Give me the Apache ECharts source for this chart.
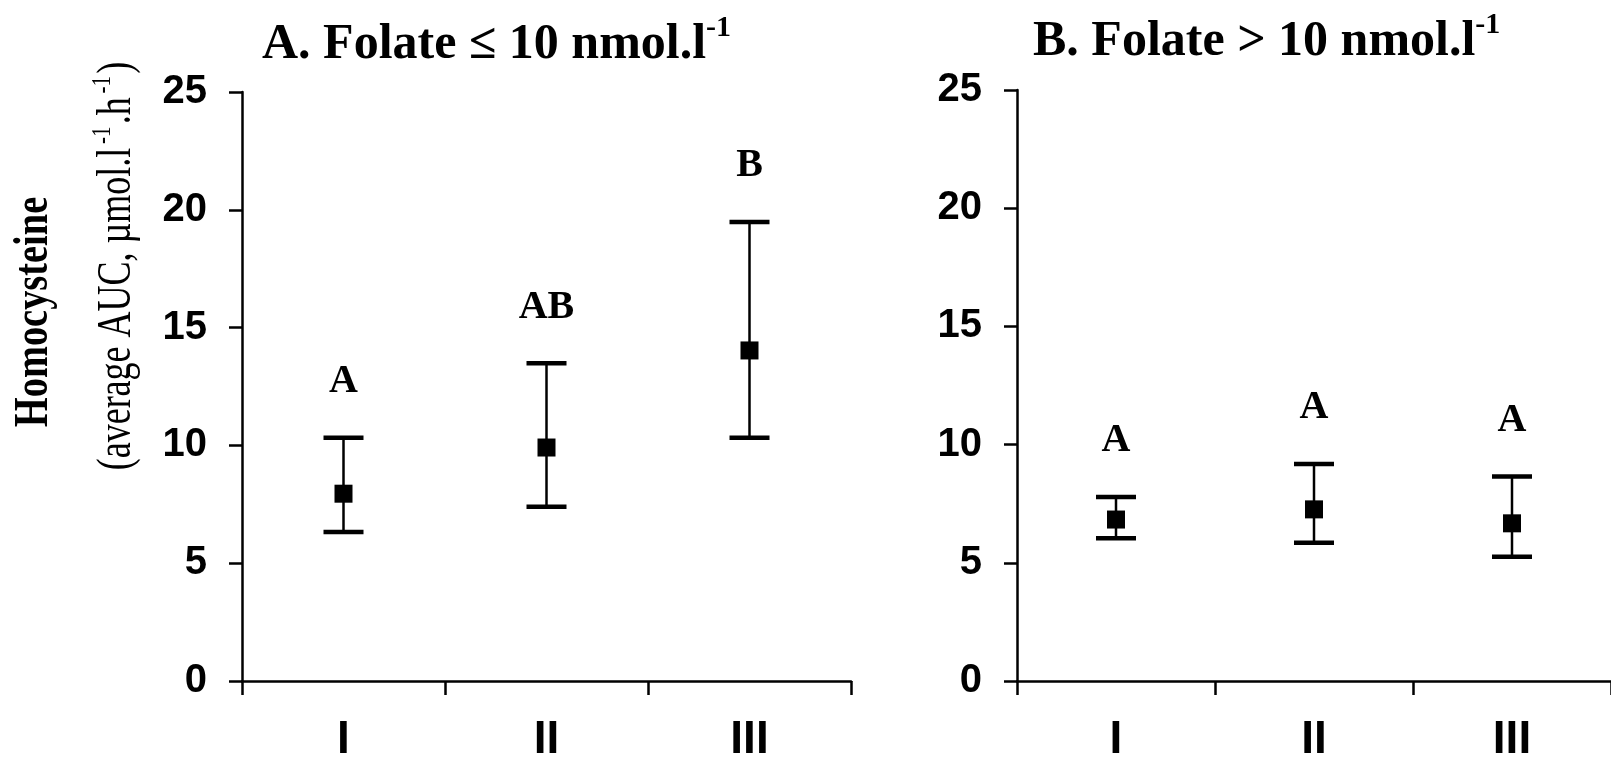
<!DOCTYPE html>
<html>
<head>
<meta charset="utf-8">
<script src="https://cdn.jsdelivr.net/npm/echarts@6/dist/echarts.min.js"></script>
<style>
  html, body { margin: 0; padding: 0; background: #fff; }
  #chart { width: 1611px; height: 763px; }
</style>
</head>
<body>
<div id="chart"></div>
<script>
// Homocysteine AUC by group (I, II, III), split by folate status
const categories = ['I', 'II', 'III'];

// Panel A: folate <= 10 nmol/l
const lowMean  = [7.95, 9.91, 14.03];
const lowUpper = [10.33, 13.49, 19.48];
const lowLower = [6.32, 7.40, 10.33];
const lowLetters = ['A', 'AB', 'B'];

// Panel B: folate > 10 nmol/l
const highMean  = [6.83, 7.26, 6.67];
const highUpper = [7.78, 9.18, 8.65];
const highLower = [6.04, 5.85, 5.26];
const highLetters = ['A', 'A', 'A'];

// y axis ticks
const yMin = 0, yMax = 25, yStep = 5;

const SERIF = '"Liberation Serif", "Times New Roman", serif';
const SANS = '"Liberation Sans", Arial, sans-serif';

// Error bar (stem + caps) with the significance letter above the upper cap
function errorBarRenderer(letters) {
  return function (params, api) {
    const idx = api.value(0);
    const top = api.coord([idx, api.value(1)]);
    const bot = api.coord([idx, api.value(2)]);
    const x = top[0];
    const half = 20;
    return {
      type: 'group',
      children: [
        { type: 'line', shape: { x1: x, y1: top[1], x2: x, y2: bot[1] },
          style: { stroke: '#000', lineWidth: 2.5 } },
        { type: 'line', shape: { x1: x - half, y1: top[1], x2: x + half, y2: top[1] },
          style: { stroke: '#000', lineWidth: 4.5 } },
        { type: 'line', shape: { x1: x - half, y1: bot[1], x2: x + half, y2: bot[1] },
          style: { stroke: '#000', lineWidth: 4.5 } },
        { type: 'text', x: x, y: top[1] - 56,
          style: { text: letters[params.dataIndex], font: 'bold 40px ' + SERIF,
                   fill: '#000', align: 'center', verticalAlign: 'middle' } }
      ]
    };
  };
}

function xAxisFor(gridIndex) {
  return {
    gridIndex: gridIndex,
    type: 'category',
    data: categories,
    boundaryGap: true,
    axisLine: { show: true, lineStyle: { color: '#000', width: 2.5 } },
    axisTick: { show: true, length: 14, alignWithLabel: false, lineStyle: { color: '#000', width: 2.5 } },
    axisLabel: { color: '#000', fontFamily: SANS, fontWeight: 'bold', fontSize: 46, margin: 36 },
    splitLine: { show: false }
  };
}

function yAxisFor(gridIndex) {
  return {
    gridIndex: gridIndex,
    type: 'value',
    min: yMin, max: yMax, interval: yStep,
    axisLine: { show: true, lineStyle: { color: '#000', width: 2.5 } },
    axisTick: { show: true, length: 13, lineStyle: { color: '#000', width: 2.5 } },
    axisLabel: { color: '#000', fontFamily: SANS, fontWeight: 'bold', fontSize: 40, margin: 35 },
    splitLine: { show: false }
  };
}

const titleRich = {
  m: { fontFamily: SERIF, fontWeight: 'bold', fontSize: 50, color: '#000', lineHeight: 64 },
  s: { fontFamily: SERIF, fontWeight: 'bold', fontSize: 30, color: '#000', verticalAlign: 'top', lineHeight: 30 }
};

const axisNameRich = {
  r: { fontFamily: SERIF, fontSize: 48, color: '#000', lineHeight: 56 },
  s: { fontFamily: SERIF, fontSize: 28, color: '#000', verticalAlign: 'top', lineHeight: 28, padding: [0, 3, 0, 5] }
};

const chart = echarts.init(document.getElementById('chart'), null, { renderer: 'canvas' });

chart.setOption({
  animation: false,
  backgroundColor: '#fff',
  title: [
    { text: '{m|A. Folate ≤ 10 nmol.l}{s|-1}', left: 262, top: 13, padding: 0, textStyle: { rich: titleRich } },
    { text: '{m|B. Folate > 10 nmol.l}{s|-1}', left: 1033, top: 10, padding: 0, textStyle: { rich: titleRich } }
  ],
  grid: [
    { left: 242, top: 92, width: 609, height: 594 },
    { left: 1017, top: 90, width: 612, height: 595 }
  ],
  xAxis: [xAxisFor(0), xAxisFor(1)],
  yAxis: [yAxisFor(0), yAxisFor(1)],
  graphic: [
    { type: 'text', x: 35, y: 312, rotation: Math.PI / 2, scaleX: 0.8,
      style: { text: 'Homocysteine', font: 'bold 48px ' + SERIF, fill: '#000',
               align: 'center', verticalAlign: 'middle' } },
    { type: 'text', x: 117, y: 266, rotation: Math.PI / 2, scaleX: 0.75,
      style: { text: '{r|(average AUC, µmol.l}{s|-1}{r|.h}{s|-1}{r|)}', rich: axisNameRich,
               align: 'center', verticalAlign: 'middle' } }
  ],
  series: [
    { type: 'custom', xAxisIndex: 0, yAxisIndex: 0,
      renderItem: errorBarRenderer(lowLetters),
      encode: { x: 0, y: [1, 2] },
      data: categories.map((c, i) => [i, lowUpper[i], lowLower[i]]) },
    { type: 'scatter', xAxisIndex: 0, yAxisIndex: 0, symbol: 'rect', symbolSize: 18,
      itemStyle: { color: '#000', opacity: 1 }, data: lowMean, z: 5 },
    { type: 'custom', xAxisIndex: 1, yAxisIndex: 1,
      renderItem: errorBarRenderer(highLetters),
      encode: { x: 0, y: [1, 2] },
      data: categories.map((c, i) => [i, highUpper[i], highLower[i]]) },
    { type: 'scatter', xAxisIndex: 1, yAxisIndex: 1, symbol: 'rect', symbolSize: 18,
      itemStyle: { color: '#000', opacity: 1 }, data: highMean, z: 5 }
  ]
});
</script>
</body>
</html>
